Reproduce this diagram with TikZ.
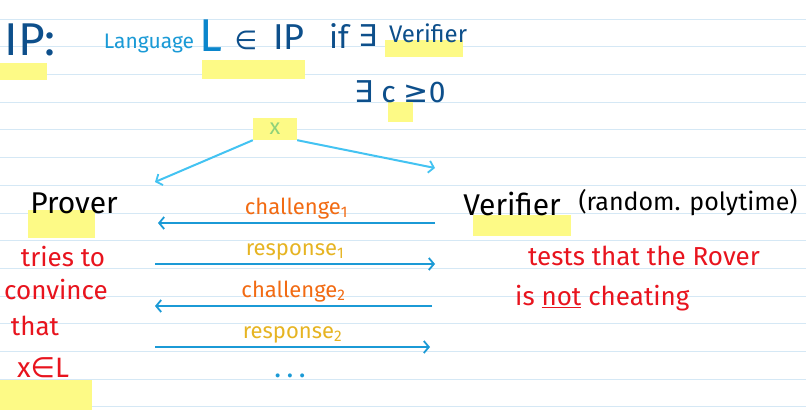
\documentclass[tikz,border=0pt]{standalone}
\usepackage{fontspec}
\setmainfont{Fira Sans}
\newfontfamily\symfam{DejaVu Sans}
\usepackage{xcolor}
\usetikzlibrary{arrows.meta,positioning}
\definecolor{navy}{HTML}{0D4F8B}
\definecolor{langblue}{HTML}{1A9AD6}
\definecolor{ellblue}{HTML}{0B86CC}
\definecolor{penred}{HTML}{E8141E}
\definecolor{penorange}{HTML}{F26B13}
\definecolor{pengold}{HTML}{E6B422}
\definecolor{msgblue}{HTML}{1B9AD6}
\definecolor{skyblue}{HTML}{43C3F2}
\definecolor{ruling}{HTML}{D5E8F5}
\definecolor{hilite}{HTML}{FDFA86}
\definecolor{xgreen}{HTML}{8FD17A}
\newcommand{\fs}[1]{\fontsize{#1}{#1}\selectfont}

\begin{document}
\begin{tikzpicture}[
					x=1pt, y=-1pt,
					hl/.style={
							fill=hilite,
							draw=none
						},
					word/.style={
							inner sep=0pt,
							anchor=center
						},
					msg/.style={
							draw=msgblue,
							line width=2.2pt,
							-{Straight Barb[length=5pt,width=12pt,line width=1.8pt]}
						},
					split/.style={
							draw=skyblue,
							line width=2pt,
							-{Straight Barb[length=5pt,width=12pt,line width=1.8pt]}
						},
					msg_label/.style={
							font=\fs{22},
							midway,
							above=3pt,
							inner sep=0pt
						}
				]
				\useasboundingbox[fill=white] (0,0) rectangle (806,410);
				\foreach \k in {0,...,14}
					\draw[ruling, line width=0.8pt] (0,19+27.7*\k) -- (806,19+27.7*\k);

				\fill[hl] (0,63) rectangle (47,80);
				\fill[hl] (202,60) rectangle (305,79);
				\fill[hl] (385,40) rectangle (463,57);
				\fill[hl] (388,102) rectangle (413,122);
				\fill[hl] (28,210) rectangle (95,238);
				\fill[hl] (473,215) rectangle (571,236);
				\fill[hl] (0,380) rectangle (92,410);

				\node[word, navy, font=\fs{46}] (ip) at (30,40) {IP:};
				\node[word, langblue, font=\fs{21}] (lang) at (149,43) {Language};
				\node[word, ellblue, font=\fs{46}] (ell) at (211,36) {L};
				\node[word, navy, font=\symfam\fs{26}] (member) at (246,40) {∈};
				\node[word, navy, font=\fs{36}] (ipclass) at (289,37) {IP};
				\node[word, navy, font=\fs{32}] (iff) at (339,36) {if};
				\node[word, navy, font=\symfam\fs{30}] (exists) at (368,36) {∃};
				\node[word, navy, font=\fs{24}] (verif) at (428,33) {Verifier};
				\node[word, navy, font=\fs{30}] (cgeq) at (400,92) {{\symfam ∃} c {\symfam ≥}0};

				\node[hl, text=xgreen, font=\fs{22}, minimum width=44pt, minimum height=22pt, inner sep=0pt] (xin) at (275,129) {x};

				\coordinate (proverend) at (155,182);
				\coordinate (verifierend) at (435,168);
				\draw[split] (xin.south west) -- (proverend);
				\draw[split] (xin.south east) -- (verifierend);

				\node[word, black, font=\fs{30}] (prover) at (74,203) {Prover};
				\node[word, penred, font=\fs{26}] (tries) at (63,257) {tries to};
				\node[word, penred, font=\fs{26}] (convince) at (56,290) {convince};
				\node[word, penred, font=\fs{26}] (that) at (35,326) {that};
				\node[word, penred, font=\fs{28}] (xinl) at (43,368) {x{\symfam ∈}L};

				\node[word, black, font=\fs{30}] (verifier) at (512,204) {Verifier};
				\node[word, black, font=\fs{25}] (polytime) at (688,203) {(random. polytime)};
				\node[word, penred, font=\fs{26}] (tests) at (644,256) {tests that the Rover};
				\node[word, penred, font=\fs{26}, anchor=west] (cheat) at (515,298) {is \underline{not} cheating};

				\coordinate (p1) at (158,223);
				\coordinate (v1) at (435,223);
				\coordinate (p2) at (155,264);
				\coordinate (v2) at (435,264);
				\coordinate (p3) at (155,306);
				\coordinate (v3) at (432,306);
				\coordinate (p4) at (155,347);
				\coordinate (v4) at (430,347);

				\draw[msg] (v1) -- (p1)
				node[msg_label, penorange] {challenge\textsubscript{1}};
				\draw[msg] (p2) -- (v2)
				node[msg_label, pengold] {response\textsubscript{1}};
				\draw[msg] (v3) -- (p3)
				node[msg_label, penorange] {challenge\textsubscript{2}};
				\draw[msg] (p4) -- (v4)
				node[msg_label, pengold] {response\textsubscript{2}};

				\node[word, msgblue, font=\bfseries\fs{22}] (dots) at (290,376) {. . .};
		\end{tikzpicture}
\end{document}
